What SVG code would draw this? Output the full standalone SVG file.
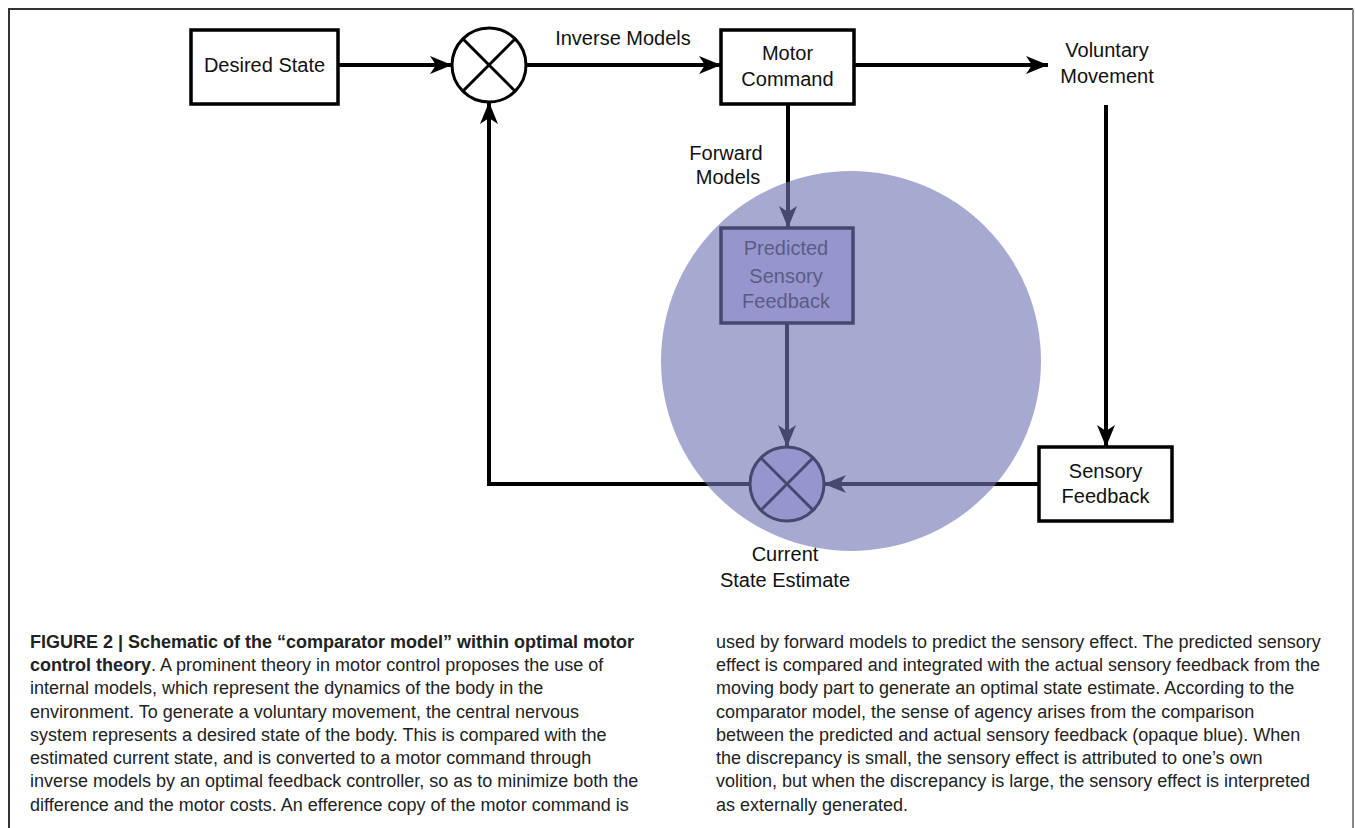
<svg xmlns="http://www.w3.org/2000/svg" width="1355" height="828" viewBox="0 0 1355 828">
<defs>
<marker id="ah" markerUnits="userSpaceOnUse" markerWidth="24" markerHeight="20" refX="22" refY="9" orient="auto"><path d="M0,0 L22,9 L0,18 L6,9 z" fill="#000"/></marker>
<style>
.box{fill:#fff;stroke:#000;stroke-width:3.5}
.pbox{fill:#d3c8f7;stroke:#000;stroke-width:3.5}
.cmp{stroke:#000;stroke-width:3}
.lbl{font-family:"Liberation Sans",Arial,sans-serif;font-size:20px;fill:#111;text-anchor:middle}
.conn{fill:none;stroke:#000;stroke-width:4}
.cap{font-family:"Liberation Sans",Arial,sans-serif;font-size:18px;fill:#222}
.b{font-weight:bold}
</style>
</defs>
<rect width="1355" height="828" fill="#fff"/>
<path d="M9,828 V9 H1353" fill="none" stroke="#333" stroke-width="2"/>
<path d="M1353,9 V828" fill="none" stroke="#888" stroke-width="2"/>

<g id="connectors">
<path class="conn" d="M338,65 H452" marker-end="url(#ah)"/>
<path class="conn" d="M526,65 H721" marker-end="url(#ah)"/>
<path class="conn" d="M854,65 H1048" marker-end="url(#ah)"/>
<path class="conn" d="M1106,105 V447" marker-end="url(#ah)"/>
<path class="conn" d="M1039,484 H824" marker-end="url(#ah)"/>
<path class="conn" d="M788,104 V228" marker-end="url(#ah)"/>
<path class="conn" d="M787,323 V447" marker-end="url(#ah)"/>
<path class="conn" d="M750,484 H489 V102" marker-end="url(#ah)"/>
</g>

<g id="desired-state">
<rect class="box" x="191" y="30" width="147" height="74"/>
<text class="lbl" x="264.5" y="72">Desired State</text>
</g>
<g id="comparator-top">
<circle class="cmp" cx="489" cy="65" r="37" fill="#fff"/>
<path class="cmp" d="M462.8,38.8 L515.2,91.2 M515.2,38.8 L462.8,91.2"/>
</g>
<g id="inverse-models-label">
<text class="lbl" x="623" y="45">Inverse Models</text>
</g>
<g id="motor-command">
<rect class="box" x="721" y="30" width="133" height="74"/>
<text class="lbl" x="787.5" y="60">Motor</text>
<text class="lbl" x="787.5" y="86">Command</text>
</g>
<g id="voluntary-movement">
<text class="lbl" x="1107" y="57">Voluntary</text>
<text class="lbl" x="1107" y="83">Movement</text>
</g>
<g id="forward-models-label">
<text class="lbl" x="726" y="160">Forward</text>
<text class="lbl" x="728" y="184">Models</text>
</g>
<g id="predicted-sensory-feedback">
<rect class="pbox" x="721" y="228" width="132" height="95"/>
<text class="lbl" x="786" y="255" style="fill:#333">Predicted</text>
<text class="lbl" x="786" y="283" style="fill:#333">Sensory</text>
<text class="lbl" x="786" y="308" style="fill:#333">Feedback</text>
</g>
<g id="sensory-feedback">
<rect class="box" x="1039" y="447" width="133" height="74"/>
<text class="lbl" x="1105.5" y="478">Sensory</text>
<text class="lbl" x="1105.5" y="503">Feedback</text>
</g>
<g id="comparator-bottom">
<circle class="cmp" cx="787" cy="484" r="37" fill="#d3c8f7"/>
<path class="cmp" d="M760.8,457.8 L813.2,510.2 M813.2,457.8 L760.8,510.2"/>
</g>
<g id="current-state-estimate">
<text class="lbl" x="785" y="561">Current</text>
<text class="lbl" x="785" y="587">State Estimate</text>
</g>

<g id="agency-overlay">
<circle cx="851" cy="361" r="190" fill="#7176b3" fill-opacity="0.62"/>
</g>

<g id="caption" class="cap">
<text x="30" y="648"><tspan class="b">FIGURE 2 | Schematic of the “comparator model” within optimal motor</tspan></text>
<text x="30" y="671"><tspan class="b">control theory</tspan>. A prominent theory in motor control proposes the use of</text>
<text x="30" y="694">internal models, which represent the dynamics of the body in the</text>
<text x="30" y="718">environment. To generate a voluntary movement, the central nervous</text>
<text x="30" y="741">system represents a desired state of the body. This is compared with the</text>
<text x="30" y="764">estimated current state, and is converted to a motor command through</text>
<text x="30" y="787">inverse models by an optimal feedback controller, so as to minimize both the</text>
<text x="30" y="811">difference and the motor costs. An efference copy of the motor command is</text>
<text x="716" y="648">used by forward models to predict the sensory effect. The predicted sensory</text>
<text x="716" y="671">effect is compared and integrated with the actual sensory feedback from the</text>
<text x="716" y="694">moving body part to generate an optimal state estimate. According to the</text>
<text x="716" y="718">comparator model, the sense of agency arises from the comparison</text>
<text x="716" y="741">between the predicted and actual sensory feedback (opaque blue). When</text>
<text x="716" y="764">the discrepancy is small, the sensory effect is attributed to one’s own</text>
<text x="716" y="787">volition, but when the discrepancy is large, the sensory effect is interpreted</text>
<text x="716" y="811">as externally generated.</text>
</g>
</svg>
